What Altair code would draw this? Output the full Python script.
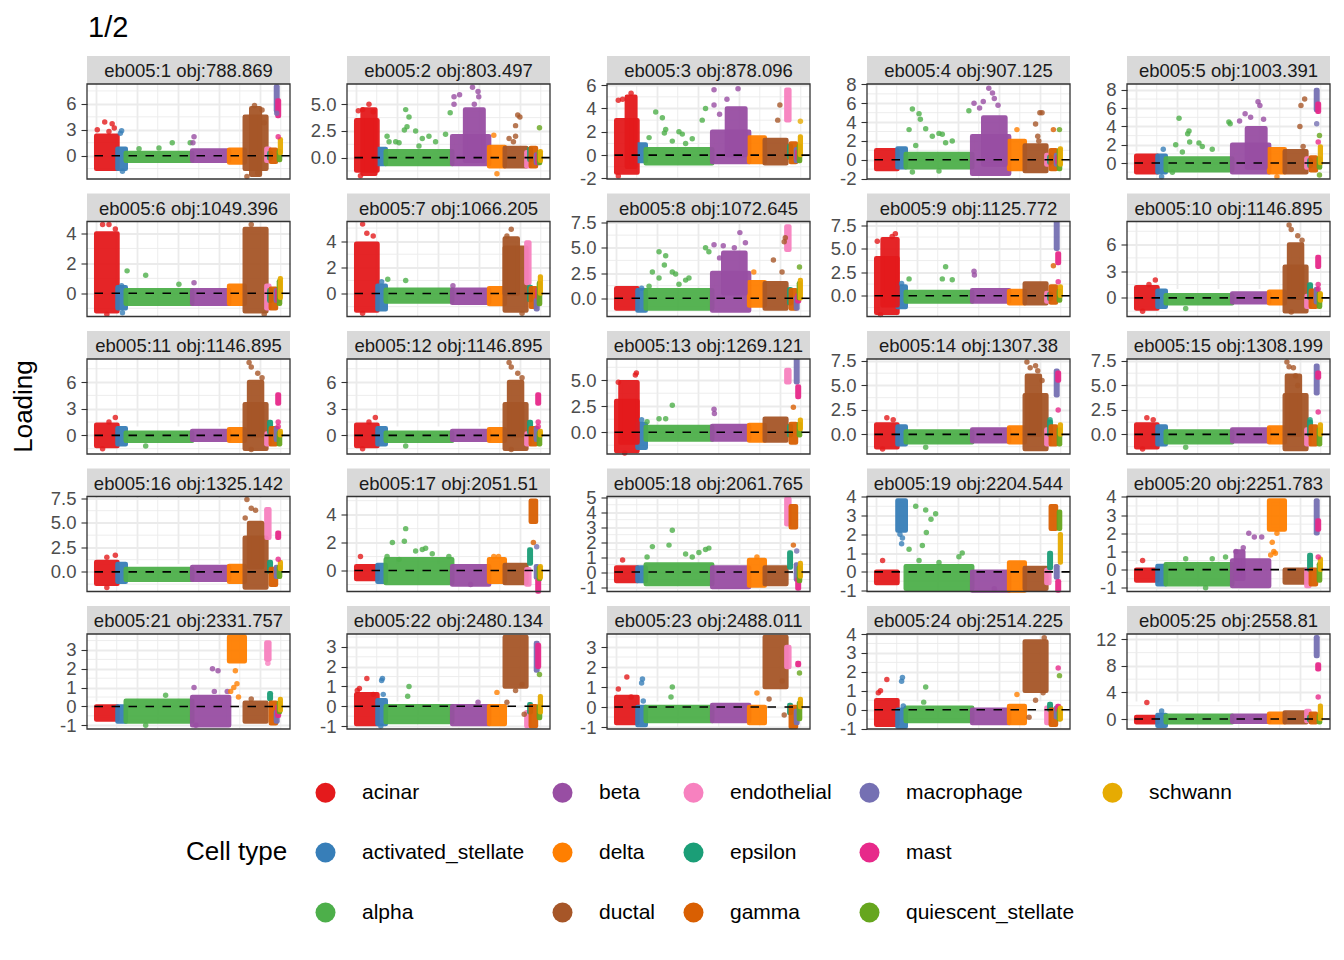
import altair as alt
import pandas as pd
import numpy as np

# ---------------- categories ----------------
cell_types = ["acinar", "activated_stellate", "alpha", "beta", "delta", "ductal",
              "endothelial", "epsilon", "gamma", "macrophage", "mast",
              "quiescent_stellate", "schwann"]
codes = ["A", "AS", "Al", "B", "D", "Du", "E", "Ep", "G", "M", "Ma", "Q", "S"]
type_colors = ["#E41A1C", "#377EB8", "#4DAF4A", "#984EA3", "#FF7F00", "#A65628",
               "#F781BF", "#1B9E77", "#D95F02", "#7570B3", "#E7298A", "#66A61E", "#E6AB02"]
# number of cells of each type (cells are ordered by type along x)
cell_counts = [518, 202, 1620, 900, 382, 527, 72, 36, 126, 36, 36, 27, 18]

page_title = "1/2"
facet_titles = ["eb005:1 obj:788.869", "eb005:2 obj:803.497", "eb005:3 obj:878.096",
                "eb005:4 obj:907.125", "eb005:5 obj:1003.391", "eb005:6 obj:1049.396",
                "eb005:7 obj:1066.205", "eb005:8 obj:1072.645", "eb005:9 obj:1125.772",
                "eb005:10 obj:1146.895", "eb005:11 obj:1146.895", "eb005:12 obj:1146.895",
                "eb005:13 obj:1269.121", "eb005:14 obj:1307.38", "eb005:15 obj:1308.199",
                "eb005:16 obj:1325.142", "eb005:17 obj:2051.51", "eb005:18 obj:2061.765",
                "eb005:19 obj:2204.544", "eb005:20 obj:2251.783", "eb005:21 obj:2331.757",
                "eb005:22 obj:2480.134", "eb005:23 obj:2488.011", "eb005:24 obj:2514.225",
                "eb005:25 obj:2558.81"]

y_domains = [[-2.7, 8.3], [-2.0, 6.9], [-2.05, 6.1], [-2.05, 8.05], [-1.75, 8.65],
             [-1.55, 4.8], [-1.75, 5.5], [-1.8, 7.6], [-2.2, 7.9], [-2.1, 8.6],
             [-2.1, 8.6], [-2.1, 8.6], [-2.1, 7.05], [-2.0, 7.7], [-2.0, 7.7],
             [-2.0, 7.7], [-1.5, 5.3], [-1.3, 5.05], [-1.05, 4.02], [-1.2, 4.02],
             [-1.2, 3.85], [-1.15, 3.65], [-1.1, 3.65], [-1.02, 4.0], [-1.5, 12.8]]

y_ticks = [[0, 3, 6], [0, 2.5, 5.0], [-2, 0, 2, 4, 6], [-2, 0, 2, 4, 6, 8], [0, 2, 4, 6, 8],
           [0, 2, 4], [0, 2, 4], [0, 2.5, 5.0, 7.5], [0, 2.5, 5.0, 7.5], [0, 3, 6],
           [0, 3, 6], [0, 3, 6], [0, 2.5, 5.0], [0, 2.5, 5.0, 7.5], [0, 2.5, 5.0, 7.5],
           [0, 2.5, 5.0, 7.5], [0, 2, 4], [-1, 0, 1, 2, 3, 4, 5], [-1, 0, 1, 2, 3, 4],
           [-1, 0, 1, 2, 3, 4], [-1, 0, 1, 2, 3], [-1, 0, 1, 2, 3], [-1, 0, 1, 2, 3],
           [-1, 0, 1, 2, 3, 4], [0, 4, 8, 12]]

# dense core of each cell type per factor: (low, high), in cell_types order
core_01 = [(-1.5, 2.3), (-1.5, 0.8), (-0.6, 0.3), (-0.6, 0.6), (-0.8, 0.7), (-1.5, 4.5), (-0.6, 0.8), (-0.3, 0.3), (-0.7, 0.7), (5.2, 8.0), (4.6, 6.4), (-0.5, 0.5), (0.3, 1.9)]
core_02 = [(-1.2, 3.5), (-0.6, 0.8), (-0.6, 0.6), (-0.6, 2.0), (-0.8, 1.0), (-0.8, 0.9), (-0.8, 0.5), (-0.2, 0.8), (-0.8, 0.9), (-0.5, 0.3), (-0.5, 0.3), (-0.5, 0.5), (-0.3, 0.6)]
core_03 = [(-1.5, 3.0), (-0.5, 0.9), (-0.7, 0.5), (-0.6, 2.0), (-0.6, 1.5), (-0.7, 1.3), (3.0, 5.6), (-0.2, 0.8), (-0.6, 1.0), (-0.5, 0.5), (-0.3, 0.3), (-0.5, 0.8), (0.0, 1.6)]
core_04 = [(-1.0, 1.0), (-0.8, 1.2), (-0.8, 0.6), (-1.5, 2.5), (-1.0, 2.0), (-1.2, 1.5), (-0.5, 0.5), (-0.3, 0.3), (-1.0, 1.0), (-0.5, 0.5), (-0.3, 0.3), (-1.0, 1.0), (-0.5, 1.2)]
core_05 = [(-1.0, 0.8), (-1.0, 0.8), (-0.8, 0.5), (-1.0, 2.0), (-1.0, 1.5), (-1.0, 1.3), (-0.5, 0.5), (-0.3, 0.3), (-0.8, 0.6), (5.8, 8.0), (5.6, 6.5), (-0.5, 0.5), (0.0, 1.8)]
core_06 = [(-1.2, 4.0), (-1.0, 0.4), (-0.7, 0.2), (-0.7, 0.2), (-0.7, 0.5), (-1.2, 4.3), (-1.0, 0.5), (-0.5, 0.2), (-1.0, 0.3), (-0.5, 0.2), (-0.5, 0.2), (-0.7, 0.8), (-0.3, 1.0)]
core_07 = [(-1.3, 3.8), (-1.2, 0.6), (-0.6, 0.3), (-0.7, 0.3), (-0.8, 0.4), (-1.3, 3.5), (0.8, 3.9), (-0.5, 0.5), (-1.0, 0.4), (-1.2, -0.5), (-0.3, 0.3), (-0.8, 0.8), (0.0, 1.3)]
core_08 = [(-1.0, 1.0), (-1.2, 0.8), (-1.0, 0.8), (-1.2, 2.5), (-0.7, 1.6), (-1.0, 1.5), (4.8, 7.1), (-0.5, 0.9), (-1.0, 0.8), (-1.0, 0.0), (-0.3, 0.3), (0.0, 1.5), (0.0, 1.8)]
core_09 = [(-1.8, 4.0), (-1.2, 1.0), (-0.6, 0.4), (-0.6, 0.6), (-0.8, 0.5), (-0.8, 1.3), (-0.6, 0.3), (-0.3, 0.2), (-0.7, 1.0), (5.0, 7.8), (3.5, 4.5), (-0.5, 0.5), (0.0, 1.0)]
core_10 = [(-1.2, 1.2), (-1.0, 0.8), (-0.6, 0.3), (-0.5, 0.5), (-0.6, 0.7), (-1.5, 3.5), (-1.0, 0.2), (0.0, 1.5), (-1.0, 0.8), (-0.5, 1.0), (3.5, 4.6), (-1.0, 0.5), (-0.3, 0.5)]
core_11 = [(-1.2, 1.2), (-1.0, 0.8), (-0.6, 0.3), (-0.5, 0.5), (-0.6, 0.7), (-1.5, 3.5), (-1.0, 0.2), (0.3, 1.5), (-1.0, 0.8), (-0.5, 0.8), (3.6, 4.6), (-1.0, 0.3), (0.0, 0.5)]
core_12 = [(-1.2, 1.2), (-1.0, 0.8), (-0.6, 0.3), (-0.5, 0.5), (-0.6, 0.7), (-1.5, 3.5), (-1.0, 0.2), (0.3, 1.5), (-1.0, 0.8), (-0.5, 0.8), (3.6, 4.6), (-1.0, 0.3), (0.0, 0.5)]
core_13 = [(-1.8, 3.0), (-1.5, 0.8), (-0.7, 0.5), (-0.7, 0.6), (-0.8, 0.7), (-0.8, 1.3), (4.8, 6.0), (-0.3, 0.6), (-1.0, 0.8), (4.8, 7.0), (3.4, 4.4), (-0.3, 0.8), (0.3, 1.2)]
core_14 = [(-1.3, 1.0), (-1.0, 0.8), (-0.8, 0.3), (-0.7, 0.5), (-0.8, 0.7), (-1.5, 4.0), (-1.0, 0.5), (0.0, 1.3), (-1.0, 0.8), (4.0, 6.5), (5.5, 6.3), (-1.0, 0.5), (0.0, 1.0)]
core_15 = [(-1.3, 1.0), (-1.0, 0.8), (-0.8, 0.3), (-0.7, 0.5), (-0.8, 0.7), (-1.5, 4.0), (-1.0, 0.5), (0.0, 1.3), (-1.0, 0.8), (4.2, 7.0), (5.8, 6.3), (-1.0, 0.5), (0.0, 1.0)]
core_16 = [(-1.2, 1.0), (-1.0, 0.8), (-0.8, 0.3), (-0.8, 0.5), (-1.0, 0.6), (-1.6, 3.5), (3.5, 6.4), (0.0, 1.0), (-1.3, 0.3), (-0.5, 0.5), (3.5, 4.0), (-0.5, 0.5), (0.3, 1.0)]
core_17 = [(-0.6, 0.3), (-0.8, 0.4), (-0.9, 0.8), (-1.0, 0.3), (-0.8, 0.8), (-0.9, 0.4), (-1.0, 0.1), (0.5, 1.5), (3.5, 5.0), (-0.5, 0.3), (-1.5, -0.7), (-0.6, 0.2), (-0.5, 0.3)]
core_18 = [(-0.6, 0.3), (-0.6, 0.3), (-0.8, 0.5), (-1.0, 0.3), (-0.9, 0.8), (-0.8, 0.3), (3.2, 4.9), (0.3, 1.3), (3.0, 4.4), (-0.5, 0.5), (-1.1, -0.5), (-0.6, 0.3), (-0.3, 0.6)]
core_19 = [(-0.6, 0.0), (2.2, 3.8), (-0.9, 0.3), (-1.0, 0.0), (-1.0, 0.5), (-0.9, 0.2), (-0.6, 0.1), (0.2, 1.0), (2.3, 3.5), (-0.3, 0.3), (-1.0, -0.5), (2.3, 3.2), (0.5, 2.0)]
core_20 = [(-0.6, 0.0), (-0.8, 0.2), (-0.8, 0.3), (-0.9, 0.5), (2.2, 3.8), (-0.7, 0.0), (-0.9, 0.0), (0.0, 0.8), (-0.8, 0.0), (2.0, 3.8), (2.2, 2.7), (-0.6, 0.3), (0.0, 0.6)]
core_21 = [(-0.7, 0.0), (-0.8, 0.0), (-0.8, 0.3), (-1.0, 0.5), (2.4, 3.7), (-0.8, 0.2), (2.5, 3.4), (0.4, 0.7), (-0.9, 0.2), (-0.8, -0.3), (-0.5, 0.0), (-0.3, 0.2), (-0.2, 0.4)]
core_22 = [(-0.9, 0.6), (-0.9, 0.3), (-0.8, 0.0), (-0.9, 0.0), (-0.9, 0.0), (1.0, 3.5), (-1.0, -0.3), (-0.3, 0.1), (-1.0, 0.0), (1.8, 3.2), (2.0, 3.1), (-0.6, 0.0), (-0.3, 0.5)]
core_23 = [(-0.8, 0.5), (-0.9, 0.0), (-0.7, 0.0), (-0.7, 0.1), (-0.8, 0.0), (1.0, 3.5), (2.0, 3.0), (-0.3, 0.1), (-1.0, 0.0), (-0.8, -0.2), (2.1, 2.2), (-0.6, 0.2), (0.0, 0.4)]
core_24 = [(-0.8, 0.5), (-0.9, 0.0), (-0.6, 0.1), (-0.7, 0.0), (-0.7, 0.2), (1.0, 3.6), (-0.7, 0.1), (0.0, 0.3), (-0.8, 0.0), (-0.4, 0.1), (0.0, 0.2), (-0.5, 0.0), (-0.5, 0.1)]
core_25 = [(-0.5, 0.3), (-1.0, 0.6), (-0.5, 0.5), (-0.4, 0.5), (-0.5, 0.8), (-0.5, 1.0), (-0.3, 1.2), (-0.2, 0.3), (-0.5, 0.8), (9.5, 12.3), (7.5, 8.2), (-0.5, 0.5), (0.0, 2.0)]

# denser sub-clouds: (type, low, high, start fraction, end fraction of the type's cells)
extra_01 = [("Du", -2.2, 5.5, 0.3, 0.7)]
extra_02 = [("A", -1.5, 4.5, 0.3, 0.9), ("B", -0.3, 4.5, 0.35, 0.85)]
extra_03 = [("A", -1.0, 5.0, 0.5, 0.9), ("B", 0.0, 4.0, 0.4, 0.9)]
extra_04 = [("B", -0.5, 4.5, 0.3, 0.9)]
extra_05 = [("B", -0.5, 3.8, 0.4, 0.9)]
extra_06 = []
extra_07 = [("Du", 0.0, 4.2, 0.0, 0.6)]
extra_08 = [("B", 0.5, 4.5, 0.3, 0.9)]
extra_09 = [("A", -1.0, 6.0, 0.3, 1.0)]
extra_10 = [("Du", 0.0, 6.0, 0.2, 0.8)]
extra_11 = [("Du", 0.0, 6.0, 0.2, 0.8)]
extra_12 = [("Du", 0.0, 6.0, 0.2, 0.8)]
extra_13 = [("A", -1.0, 4.8, 0.2, 1.0)]
extra_14 = [("Du", 0.0, 6.0, 0.1, 0.7)]
extra_15 = [("Du", 0.0, 6.0, 0.1, 0.7)]
extra_16 = [("Du", 0.5, 5.0, 0.2, 0.8)]
extra_17 = []
extra_18 = []
extra_19 = []
extra_20 = [("B", -0.5, 1.0, 0.1, 0.3)]
extra_21 = []
extra_22 = []
extra_23 = []
extra_24 = []
extra_25 = []

# isolated cells: (type, position fraction within the type's cells, loading)
outl_01 = [("A", .05, 3.0), ("A", .4, 3.9), ("A", .75, 3.7), ("A", .85, 3.2), ("A", .6, 2.8), ("AS", .5, 2.9), ("AS", .35, 2.6), ("AS", .6, -1.8), ("Al", .7, 1.5), ("Al", .97, 1.5), ("Al", .5, 0.9), ("Al", .2, 0.8), ("B", .05, 2.2), ("B", .02, 1.5), ("Du", .45, 5.8), ("Du", .8, 5.3), ("Du", .1, -2.4), ("Du", .6, -2.0), ("Du", .9, 3.8), ("Ma", .5, 2.2), ("M", .5, 4.9)]
outl_02 = [("A", .1, 4.4), ("A", .3, 4.5), ("A", .6, 5.0), ("A", .8, 4.3), ("A", .2, -1.7), ("Al", .3, 4.5), ("Al", .35, 3.8), ("Al", .28, 2.6), ("Al", .32, 2.9), ("Al", .05, 1.5), ("Al", .02, 2.0), ("Al", .15, 1.5), ("Al", .2, 1.4), ("Al", .45, 2.5), ("Al", .55, 1.8), ("Al", .65, 2.0), ("Al", .75, 1.5), ("Al", .9, 2.2), ("Al", .97, 4.2), ("Al", .5, 1.1), ("B", .05, 5.7), ("B", .05, 5.0), ("B", .2, 5.9), ("B", .55, 6.6), ("B", .7, 6.2), ("B", .72, 5.7), ("B", .6, 5.0), ("D", .3, 2.1), ("D", .5, -1.5), ("Du", .6, 4.0), ("Du", .7, 3.8), ("Du", .5, 3.0), ("Du", .2, 1.8), ("Du", .5, 2.0), ("Du", .4, 1.5), ("Q", .5, 2.8)]
outl_03 = [("A", .1, 4.7), ("A", .3, 4.8), ("A", .1, -1.8), ("A", .7, 5.3), ("Al", .15, 3.7), ("Al", .25, 3.2), ("Al", .3, 2.2), ("Al", .28, 1.9), ("Al", .05, 1.5), ("Al", .5, 2.0), ("Al", .55, 1.8), ("Al", .7, 1.4), ("Al", .85, 3.0), ("Al", .9, 4.0), ("Al", .4, 1.2), ("Al", .6, 1.0), ("B", .05, 5.6), ("B", .05, 4.3), ("B", .7, 5.7), ("B", .4, 4.8), ("B", .2, 3.5), ("Du", .7, 4.3), ("Du", .6, 3.0), ("S", .5, 2.9)]
outl_04 = [("Al", .1, 5.4), ("Al", .2, 4.9), ("Al", .05, 3.2), ("Al", .22, 4.3), ("Al", .3, 3.3), ("Al", .4, 2.5), ("Al", .5, 2.8), ("Al", .55, 2.7), ("Al", .95, 5.2), ("Al", .6, 1.8), ("Al", .7, 2.0), ("Al", .15, 1.5), ("Al", .1, -1.3), ("Al", .5, -1.2), ("B", .45, 7.6), ("B", .55, 7.1), ("B", .05, 6.0), ("B", .3, 6.2), ("B", .2, 5.5), ("B", .6, 6.5), ("B", .7, 5.8), ("D", .5, 3.2), ("Du", .7, 5.0), ("Du", .8, 5.0), ("Du", .5, 3.8), ("Du", .6, 2.5), ("Du", .65, 2.0), ("G", .5, 3.2), ("Q", .5, 3.2)]
outl_05 = [("AS", .5, -1.5), ("AS", .7, 1.5), ("Al", .2, 4.9), ("Al", .35, 3.5), ("Al", .33, 3.2), ("Al", .36, 2.3), ("Al", .15, 2.0), ("Al", .5, 2.2), ("Al", .55, 1.8), ("Al", .95, 4.5), ("Al", .97, 4.3), ("Al", .7, 1.5), ("Al", .25, 1.2), ("Al", .1, -1.0), ("B", .7, 6.7), ("B", .75, 6.3), ("B", .35, 5.4), ("B", .2, 4.6), ("B", .5, 5.0), ("B", .85, 4.8), ("D", .5, -1.5), ("Du", .7, 4.0), ("Du", .75, 6.3), ("Du", .92, 7.0), ("Du", .85, 1.8), ("M", .5, 4.3), ("Ma", .5, 2.3), ("Q", .5, 3.0), ("Q", .5, -1.3)]
outl_06 = [("A", .3, 4.6), ("A", .6, 4.6), ("A", .9, 4.3), ("A", .5, -1.4), ("AS", .6, -1.3), ("AS", .5, 0.5), ("Al", .02, 1.5), ("Al", .3, 1.2), ("Al", .8, 0.6), ("B", .05, 0.7), ("Du", .3, 4.6), ("Du", .9, -1.4)]
outl_07 = [("A", .3, 5.3), ("A", .5, 4.6), ("A", .8, 4.4), ("A", .3, -1.5), ("AS", .5, 0.9), ("Al", .03, 1.1), ("Al", .3, 1.0), ("B", .02, 0.6), ("Du", .3, 4.9), ("Du", .1, 4.4), ("Du", .8, -1.5)]
outl_08 = [("AS", .5, 1.0), ("Al", .2, 4.6), ("Al", .3, 4.2), ("Al", .28, 3.3), ("Al", .1, 2.6), ("Al", .2, 2.0), ("Al", .4, 2.6), ("Al", .45, 2.4), ("Al", .6, 1.8), ("Al", .65, 2.0), ("Al", .5, 1.4), ("Al", .95, 4.6), ("Al", .9, 5.0), ("Al", .05, 1.2), ("B", .05, 5.3), ("B", .3, 5.2), ("B", .75, 6.5), ("B", .9, 5.5), ("B", .6, 5.0), ("B", .2, 4.0), ("D", .3, 2.6), ("Du", .4, 3.8), ("Du", .8, 2.6), ("Du", .9, 5.6), ("Du", .95, 6.0), ("Q", .5, 3.1)]
outl_09 = [("A", .9, 6.6), ("A", .75, 6.3), ("A", .05, 5.8), ("A", .2, -2.0), ("AS", .5, 1.3), ("Al", .6, 3.1), ("Al", .55, 1.8), ("Al", .7, 1.7), ("Al", .05, 1.8), ("B", .05, 2.6), ("B", .06, 2.2), ("G", .5, 3.2), ("Ma", .5, 1.5)]
outl_10 = [("A", .9, 2.0), ("A", .6, 1.5), ("A", .3, -1.5), ("Al", .3, -1.2), ("Du", .2, 8.2), ("Du", .3, 7.7), ("Du", .6, 7.0), ("Du", .8, 6.5), ("Du", .3, -1.6), ("Ma", .5, 1.5), ("Ma", .5, 1.0)]
outl_11 = [("A", .9, 2.0), ("A", .6, 1.5), ("A", .3, -1.5), ("Al", .3, -1.2), ("Du", .2, 8.2), ("Du", .3, 7.7), ("Du", .6, 7.0), ("Du", .8, 6.5), ("Du", .3, -1.6), ("Ma", .5, 1.5), ("Ma", .5, 1.0)]
outl_12 = [("A", .9, 2.0), ("A", .6, 1.5), ("A", .3, -1.5), ("Al", .3, -1.2), ("Du", .2, 8.2), ("Du", .3, 7.7), ("Du", .6, 7.0), ("Du", .8, 6.5), ("Du", .3, -1.6), ("Ma", .5, 1.5), ("Ma", .5, 1.0)]
outl_13 = [("A", .9, 5.5), ("A", .95, 5.7), ("A", .1, 4.8), ("A", .4, -2.0), ("AS", .5, 1.2), ("Al", .4, 2.6), ("Al", .2, 1.3), ("Al", .3, 1.3), ("Al", .02, 1.0), ("B", .05, 2.2), ("B", .06, 1.8), ("G", .5, 2.4)]
outl_14 = [("A", .5, 1.7), ("A", .8, 1.5), ("A", .3, -1.5), ("Al", .3, -1.3), ("Du", .1, 7.4), ("Du", .25, 6.8), ("Du", .5, 7.0), ("Du", .6, 6.5), ("Du", .8, 5.5), ("Ep", .5, 1.5), ("Ma", .5, 2.5)]
outl_15 = [("A", .5, 1.7), ("A", .8, 1.5), ("A", .3, -1.5), ("Al", .3, -1.3), ("Du", .1, 7.4), ("Du", .2, 6.9), ("Du", .4, 6.8), ("Du", .5, 6.0), ("Du", .6, 5.0), ("Ep", .5, 1.5), ("Ma", .5, 2.3)]
outl_16 = [("A", .5, 1.5), ("A", .9, 1.7), ("A", .5, -1.6), ("Du", .1, 7.4), ("Du", .3, 6.5), ("Du", .5, 6.3), ("Du", .02, 5.5), ("Ma", .5, 1.3)]
outl_17 = [("A", .2, 1.0), ("Al", .1, 2.0), ("Al", .3, 3.0), ("Al", .28, 2.1), ("Al", .02, 1.0), ("Al", .2, 0.8), ("Al", .55, 1.5), ("Al", .6, 1.6), ("Al", .7, 1.2), ("Al", .45, 1.4), ("Al", .95, 1.0), ("B", .5, -1.0), ("D", .3, 1.0), ("D", .6, 1.0), ("G", .5, 2.0), ("M", .5, 1.7)]
outl_18 = [("A", .3, 0.8), ("Al", .4, 2.8), ("Al", .35, 1.8), ("Al", .1, 1.7), ("Al", .02, 1.0), ("Al", .6, 1.2), ("Al", .9, 1.5), ("Al", .95, 1.6), ("Al", .7, 1.0), ("Al", .8, 1.3), ("D", .5, 1.0), ("G", .5, 1.8), ("M", .5, 1.4)]
outl_19 = [("A", .3, 0.6), ("AS", .5, 1.5), ("AS", .3, 2.0), ("AS", .6, 1.8), ("Al", .15, 3.5), ("Al", .3, 3.3), ("Al", .38, 2.8), ("Al", .45, 3.1), ("Al", .31, 2.1), ("Al", .05, 1.2), ("Al", .25, 1.4), ("Al", .2, 0.6), ("Al", .85, 1.0), ("Al", .8, 0.8), ("Al", .5, 0.5), ("B", .6, -0.9)]
outl_20 = [("A", .3, 0.5), ("Al", .9, 0.7), ("Al", .7, 0.6), ("Al", .3, 0.6), ("Al", .6, -1.0), ("B", .45, 2.0), ("B", .6, 1.8), ("B", .8, 1.8), ("B", .3, 1.2), ("B", .1, 1.0), ("D", .2, 1.5), ("D", .3, 1.0), ("D", .1, 0.8), ("D", .5, 2.0), ("D", .4, 0.9), ("Ma", .5, 0.7)]
outl_21 = [("Al", .6, 0.6), ("Al", .3, -1.0), ("B", .55, 2.0), ("B", .7, 1.9), ("B", .05, 1.0), ("B", .6, 0.8), ("B", .95, 0.8), ("B", .1, -1.0), ("D", .4, 1.9), ("D", .5, 1.2), ("D", .3, 1.0), ("D", .1, 0.8), ("D", .6, 0.5), ("Du", .3, 0.4), ("E", .5, 2.3)]
outl_22 = [("A", .5, 1.4), ("A", .05, 0.8), ("A", .15, 0.9), ("A", .8, 0.6), ("AS", .5, 1.3), ("AS", .6, 1.4), ("AS", .7, 0.6), ("AS", .4, -1.0), ("Al", .35, 1.0), ("Al", .33, 0.5), ("B", .7, 0.2), ("D", .5, 0.7), ("Du", .5, 0.8), ("Du", .1, 0.2), ("Du", .9, -0.4), ("Du", .8, 1.1), ("Q", .5, 1.6)]
outl_23 = [("A", .1, 0.9), ("A", .5, 1.5), ("A", .7, 0.5), ("AS", .5, 1.2), ("AS", .6, 1.4), ("AS", .7, 0.3), ("Al", .4, 1.0), ("Al", .38, 0.5), ("D", .5, 0.7), ("Du", .2, 0.4), ("Du", .9, -0.4), ("Du", .8, 1.3), ("Q", .5, 1.7)]
outl_24 = [("A", .1, 0.9), ("A", .2, 1.0), ("A", .5, 1.6), ("AS", .5, 1.5), ("AS", .6, 1.7), ("AS", .7, 0.2), ("Al", .3, 1.2), ("Al", .27, 0.4), ("D", .5, 0.8), ("Du", .9, 3.8), ("Du", .5, 0.5), ("Du", .2, -0.4), ("Du", .85, 0.9), ("Ma", .5, 2.2), ("Q", .5, 1.8)]
outl_25 = [("A", .5, 2.5), ("AS", .5, 1.2), ("Ma", .5, 3.3)]

cores = [core_01, core_02, core_03, core_04, core_05, core_06, core_07, core_08, core_09,
         core_10, core_11, core_12, core_13, core_14, core_15, core_16, core_17, core_18,
         core_19, core_20, core_21, core_22, core_23, core_24, core_25]
extras = [extra_01, extra_02, extra_03, extra_04, extra_05, extra_06, extra_07, extra_08,
          extra_09, extra_10, extra_11, extra_12, extra_13, extra_14, extra_15, extra_16,
          extra_17, extra_18, extra_19, extra_20, extra_21, extra_22, extra_23, extra_24, extra_25]
outliers = [outl_01, outl_02, outl_03, outl_04, outl_05, outl_06, outl_07, outl_08, outl_09,
            outl_10, outl_11, outl_12, outl_13, outl_14, outl_15, outl_16, outl_17, outl_18,
            outl_19, outl_20, outl_21, outl_22, outl_23, outl_24, outl_25]

# ---------------- build ----------------
starts = np.concatenate([[0], np.cumsum(cell_counts)[:-1]])
n_cells = int(np.sum(cell_counts))
code_idx = {c: k for k, c in enumerate(codes)}

W, H, SH = 203, 95, 28
xpad = 0.05 * n_cells
xs = alt.Scale(domain=[-xpad, n_cells + xpad], nice=False, zero=False)
x_major = [0, 1000, 2000, 3000, 4000]
x_minor = [500, 1500, 2500, 3500, 4500]
GRID = "#EBEBEB"

# a blank 14th legend slot keeps the 3 x 5 legend grid filled column by column
color_scale = alt.Scale(domain=cell_types + [" "], range=type_colors + ["#FFFFFF"])
legend = alt.Legend(orient="none", legendX=99, legendY=726, columns=5,
                    title="Cell type", titleOrient="left", titleFontSize=26,
                    titleFontWeight="normal", titleColor="black", titlePadding=27,
                    titleAnchor="middle", titleBaseline="middle",
                    labelFontSize=21, labelColor="black", labelOffset=26, labelLimit=400,
                    symbolSize=400, symbolType="circle", symbolStrokeWidth=0,
                    symbolOpacity=1, columnPadding=27, rowPadding=38)


def panel(i):
    dom = y_domains[i]
    ticks = y_ticks[i]
    ys = alt.Scale(domain=dom, nice=False, zero=False, range=[SH + H, SH])
    fmt = ".1f" if any(float(t) != int(t) for t in ticks) else "d"
    yaxis = alt.Axis(values=ticks, title=None, grid=True, gridColor=GRID, gridWidth=1.8,
                     domain=False, tickColor="#333333", tickSize=6, tickWidth=1.1,
                     labelFontSize=18.5, labelColor="#4D4D4D", labelPadding=5,
                     labelOverlap=False, format=fmt,
                     labelExpr="replace(datum.label, '\u2212', '-')")
    xaxis = alt.Axis(values=x_major, labels=False, ticks=False, domain=False, title=None,
                     grid=True, gridColor=GRID, gridWidth=1.8)

    step = ticks[1] - ticks[0]
    cand = [ticks[0] - step / 2] + [t + step / 2 for t in ticks]
    y_minor = [m for m in cand if dom[0] < m < dom[1]]

    core_df = pd.DataFrame([
        dict(type=cell_types[k], x0=starts[k], x1=starts[k] + cell_counts[k], lo=lo, hi=hi)
        for k, (lo, hi) in enumerate(cores[i])])
    extra_df = pd.DataFrame([
        dict(type=cell_types[code_idx[c]],
             x0=starts[code_idx[c]] + a * cell_counts[code_idx[c]],
             x1=starts[code_idx[c]] + b * cell_counts[code_idx[c]], lo=lo, hi=hi)
        for (c, lo, hi, a, b) in extras[i]], columns=["type", "x0", "x1", "lo", "hi"])
    pts = sorted(outliers[i], key=lambda r: code_idx[r[0]])
    pt_df = pd.DataFrame([
        dict(type=cell_types[code_idx[c]],
             xp=starts[code_idx[c]] + f * cell_counts[code_idx[c]], v=v)
        for (c, f, v) in pts])

    colr = alt.Color("type:N", scale=color_scale, legend=legend)
    strk = alt.Stroke("type:N", scale=color_scale, legend=None)

    layers = [
        alt.Chart(pd.DataFrame({"xm": x_minor})).mark_rule(color=GRID, strokeWidth=0.9).encode(
            x=alt.X("xm:Q", scale=xs, axis=xaxis), y=alt.value(SH), y2=alt.value(SH + H)),
        alt.Chart(pd.DataFrame({"ym": y_minor})).mark_rule(color=GRID, strokeWidth=0.9).encode(
            y=alt.Y("ym:Q", scale=ys, axis=yaxis)),
        alt.Chart(core_df).mark_rect(strokeWidth=4.5, strokeJoin="round", opacity=0.95).encode(
            x=alt.X("x0:Q", scale=xs, axis=xaxis), x2="x1:Q",
            y=alt.Y("lo:Q", scale=ys, axis=yaxis), y2="hi:Q", color=colr, stroke=strk),
    ]
    if len(extra_df):
        layers.append(alt.Chart(extra_df).mark_rect(strokeWidth=4.5, strokeJoin="round", opacity=0.95).encode(
            x=alt.X("x0:Q", scale=xs, axis=xaxis), x2="x1:Q",
            y=alt.Y("lo:Q", scale=ys, axis=yaxis), y2="hi:Q", color=colr, stroke=strk))
    layers += [
        alt.Chart(pt_df).mark_circle(size=30, opacity=0.8).encode(
            x=alt.X("xp:Q", scale=xs, axis=xaxis), y=alt.Y("v:Q", scale=ys, axis=yaxis),
            color=colr),
        alt.Chart(pd.DataFrame({"z": [0]})).mark_rule(
            color="black", strokeDash=[8.5, 8.5], strokeWidth=1.6).encode(
            y=alt.Y("z:Q", scale=ys, axis=yaxis)),
        alt.Chart(pd.DataFrame({"title": [facet_titles[i]]})).mark_rect(color="#D9D9D9").encode(
            x=alt.value(0), x2=alt.value(W), y=alt.value(0), y2=alt.value(SH)),
        alt.Chart(pd.DataFrame({"title": [facet_titles[i]]})).mark_text(
            fontSize=18.5, color="#1A1A1A", baseline="middle", align="center").encode(
            text="title:N", x=alt.value(W / 2), y=alt.value(SH / 2 + 1)),
        alt.Chart(pd.DataFrame({"title": [facet_titles[i]]})).mark_rect(
            filled=False, stroke="#333333", strokeWidth=1.3).encode(
            x=alt.value(0), x2=alt.value(W), y=alt.value(SH), y2=alt.value(SH + H)),
    ]
    if i == 0:
        layers.append(alt.Chart(pd.DataFrame({"t": [page_title]})).mark_text(
            fontSize=29, color="black", baseline="alphabetic", align="left").encode(
            text="t:N", x=alt.value(1), y=alt.value(-19)))
    if i == 10:
        layers.append(alt.Chart(pd.DataFrame({"t": ["Loading"]})).mark_text(
            fontSize=26, angle=270, color="black", baseline="middle", align="center").encode(
            text="t:N", x=alt.value(-62.7), y=alt.value(SH + H / 2)))
    return alt.layer(*layers).properties(width=W, height=SH + H)


panels = [panel(i) for i in range(25)]

chart = alt.concat(*panels, columns=5, spacing={"row": 14.5, "column": 57},
                   bounds="flush").properties(
    padding={"left": 3, "top": 6, "right": 5, "bottom": 5},
).configure(font="Liberation Sans").configure_view(stroke=None)

chart.save("out.html", embed_options={"renderer": "svg", "actions": False})
